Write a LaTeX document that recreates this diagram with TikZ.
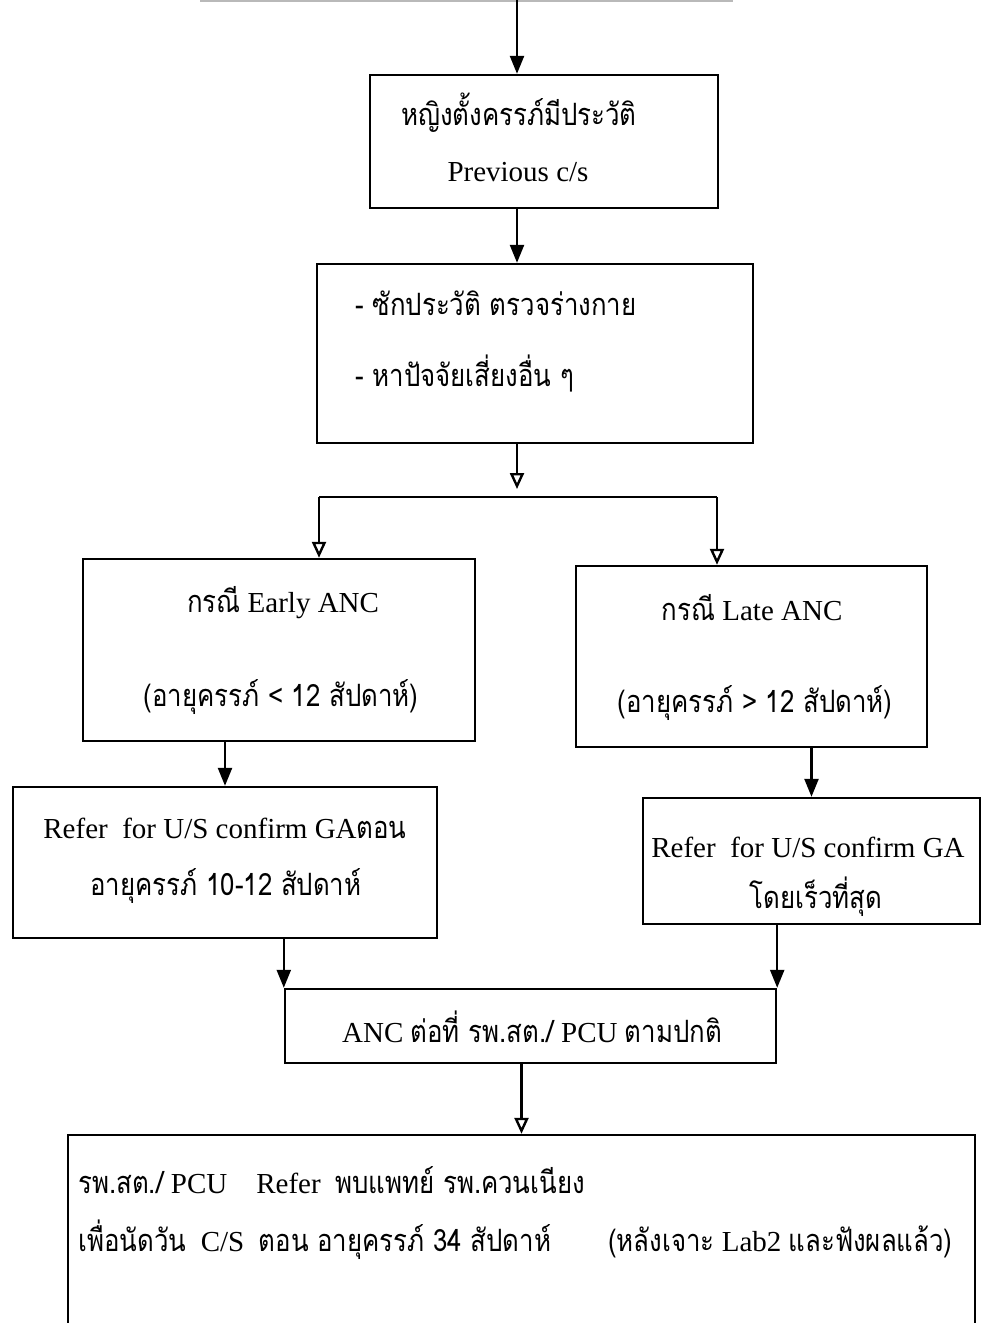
\documentclass[tikz,border=0pt]{standalone}
\usepackage{fontspec}
\setmainfont{Liberation Serif}
\newfontfamily\thaif[Script=Thai,FakeStretch=0.84,Scale=1.06]{Loma}
\newcommand\T[1]{{\thaif #1}}
\usetikzlibrary{arrows.meta}
\begin{document}
\begin{tikzpicture}[x=0.5pt,y=-0.5pt,
  box/.style 2 args={draw, line width=1.2pt, minimum width=#1*0.5pt, minimum height=#2*0.5pt, inner sep=0pt},
  txt/.style={inner sep=0pt, font=\fontsize{14.5}{17}\selectfont},
  fillarrow/.style={line width=1.2pt, -{Triangle[length=9pt,width=7pt]}},
  openarrow/.style={line width=1.2pt, -{Triangle[open,length=8pt,width=7pt]}},
  link/.style={line width=1.2pt}]
\useasboundingbox (0,0) rectangle (983,1323);
% remnant of the box above
\draw[gray!55, line width=1pt] (200,1) -- (733,1);
\coordinate (top) at (517,0);
% box 1
\node[box={348}{133}] (b1) at (544,141.5) {};
\node[txt] (b1a) at (519,113) {\T{หญิงตั้งครรภ์มีประวัติ}};
\node[txt] (b1b) at (518,172) {Previous c/s};
\draw[fillarrow] (top) -- (top |- b1.north);
% box 2
\node[box={436}{179}] (b2) at (535,353.5) {};
\node[txt, anchor=west] (b2a) at (355,303) {\T{- ซักประวัติ ตรวจร่างกาย}};
\node[txt, anchor=west] (b2b) at (355,373) {\T{- หาปัจจัยเสี่ยงอื่น ๆ}};
\draw[fillarrow] (b1.south -| top) -- (b2.north -| top);
% branch
\coordinate (brtip) at (517,489);
\coordinate (bl) at (319,497);
\coordinate (brr) at (717,497);
\draw[openarrow] (b2.south -| top) -- (brtip);
\draw[link] (bl) -- (brr);
% early / late
\node[box={392}{182}] (early) at (279,650) {};
\node[txt] (ea) at (283,603) {\T{กรณี} Early ANC};
\node[txt] (eb) at (281,697) {\T{(อายุครรภ์ < 12 สัปดาห์)}};
\node[box={351}{181}] (late) at (751.5,656.5) {};
\node[txt] (la) at (752,608) {\T{กรณี} Late ANC};
\node[txt] (lb) at (755,703) {\T{(อายุครรภ์ > 12 สัปดาห์)}};
\draw[openarrow] (bl) -- (bl |- early.north);
\draw[openarrow] (brr) -- (brr |- late.north);
% refer boxes
\node[box={424}{151}] (refl) at (225,862.5) {};
\node[txt] (rla) at (225,828) {Refer~ for U/S confirm GA\T{ตอน}};
\node[txt] (rlb) at (226,886) {\T{อายุครรภ์ 10-12 สัปดาห์}};
\node[box={337}{126}] (refr) at (811.5,861) {};
\node[txt] (rra) at (808,847) {Refer~ for U/S confirm GA};
\node[txt] (rrb) at (816,897) {\T{โดยเร็วที่สุด}};
\draw[fillarrow] (early.south -| refl.north) -- (refl.north);
\draw[fillarrow] (late.south -| refr.north) -- (refr.north);
% ANC box
\node[box={491}{74}] (anc) at (530.5,1026) {};
\node[txt] (anct) at (532,1027) {ANC \T{ต่อที่ รพ.สต./} PCU \T{ตามปกติ}};
\draw[fillarrow] (refl.south -| anc.north west) -- (anc.north west);
\draw[fillarrow] (refr.south -| anc.north east) -- (anc.north east);
% final box
\node[box={907}{215}] (fin) at (521.5,1242.5) {};
\node[txt, anchor=west] (fa) at (78,1180) {\T{รพ.สต./} PCU\quad Refer~ \T{พบแพทย์ รพ.ควนเนียง}};
\node[txt, anchor=west] (fb) at (78,1240) {\makebox[437pt][l]{\T{เพื่อนัดวัน}~ C/S~ \T{ตอน อายุครรภ์ 34 สัปดาห์}\hfill\T{(หลังเจาะ} Lab2 \T{และฟังผลแล้ว)}}};
\draw[openarrow] (anc.south -| fin.north) -- (fin.north);
\end{tikzpicture}
\end{document}
